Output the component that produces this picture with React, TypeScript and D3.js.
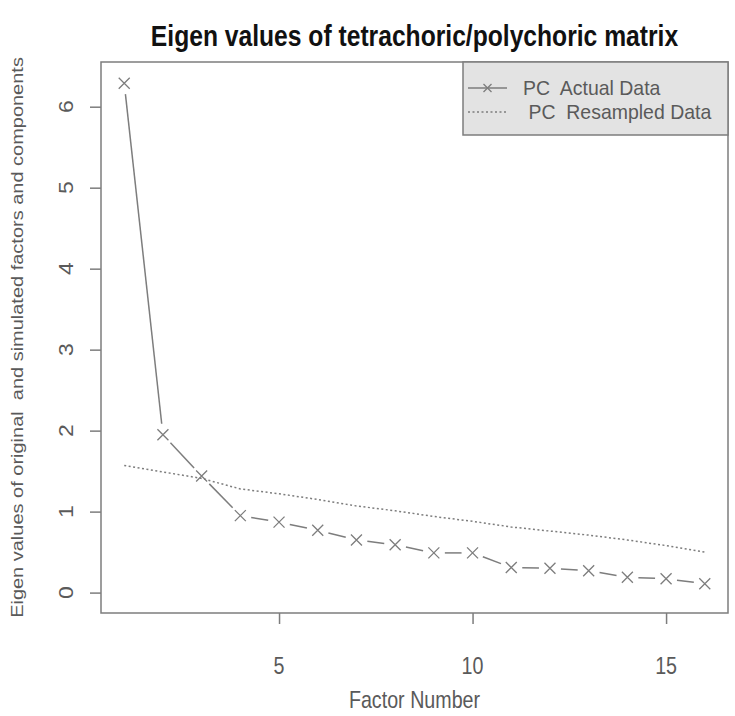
import React, { useEffect, useRef } from 'react';
import * as d3 from 'd3';

// scree plot: eigen values of actual vs resampled data

const factorNumbers = [1, 2, 3, 4, 5, 6, 7, 8, 9, 10, 11, 12, 13, 14, 15, 16];
const actualData = [6.29, 1.95, 1.44, 0.95, 0.87, 0.77, 0.65, 0.59, 0.49, 0.49, 0.31, 0.30, 0.27, 0.19, 0.17, 0.11];
const resampledData = [1.57, 1.49, 1.41, 1.28, 1.22, 1.15, 1.07, 1.01, 0.94, 0.88, 0.81, 0.76, 0.71, 0.65, 0.58, 0.50];
const xTicks = [5, 10, 15];
const yTicks = [0, 1, 2, 3, 4, 5, 6];
const legendLabels = ['PC  Actual Data', ' PC  Resampled Data'];

const titleText = 'Eigen values of tetrachoric/polychoric matrix';
const xLabel = 'Factor Number';
const yLabel = 'Eigen values of original  and simulated factors and components';

const FONT = "'Liberation Sans', Arial, sans-serif";
const SQ = 0.82; // text looks horizontally squeezed

export default function App() {
  const ref = useRef<SVGSVGElement>(null);

  useEffect(() => {
    let width = 735;
    let height = 716;
    let left = 101, right = 728, top = 62, bottom = 613;

    let svg = d3.select(ref.current);
    svg.selectAll('*').remove();
    svg.attr('width', width).attr('height', height);

    // R style: 4% padding on both ends
    let xPad = (16 - 1) * 0.04;
    let yPad = (6.3 - 0) * 0.04;
    let x = d3.scaleLinear().domain([1 - xPad, 16 + xPad]).range([left, right]);
    let y = d3.scaleLinear().domain([0 - yPad, 6.3 + yPad]).range([bottom, top]);

    let grey = '#7d7d7d';
    let textGrey = '#5a5a5a';

    // horizontal text helper
    const hText = (tx: number, ty: number, s: string, size: number, opts: any = {}) =>
      svg.append('text')
        .attr('transform', `translate(${tx},${ty}) scale(${opts.sq || SQ},1)`)
        .attr('text-anchor', opts.anchor || 'middle')
        .attr('font-family', FONT)
        .attr('font-size', size)
        .attr('font-weight', opts.weight || 'normal')
        .attr('fill', opts.fill || textGrey)
        .style('white-space', 'pre')
        .text(s);

    // rotated text helper
    const vText = (tx: number, ty: number, s: string, size: number, sq = SQ) =>
      svg.append('text')
        .attr('transform', `translate(${tx},${ty}) scale(${sq},1) rotate(-90)`)
        .attr('text-anchor', 'middle')
        .attr('dominant-baseline', 'central')
        .attr('font-family', FONT)
        .attr('font-size', size)
        .attr('fill', textGrey)
        .style('white-space', 'pre')
        .text(s);

    // title
    hText((left + right) / 2, 46, titleText, 29, { weight: 'bold', fill: '#111', sq: 0.85 });

    // x axis
    let xAxis = svg.append('g')
      .attr('transform', `translate(0,${bottom})`)
      .call(d3.axisBottom(x).tickValues(xTicks).tickSize(11).tickFormat(() => ''));
    xAxis.select('.domain').remove();
    xAxis.selectAll('line').attr('stroke', grey).attr('stroke-width', 1.5);
    xTicks.forEach((t) => hText(x(t), 674, String(t), 24));
    hText((left + right) / 2, 708, xLabel, 24);

    // y axis
    let yAxis = svg.append('g')
      .attr('transform', `translate(${left},0)`)
      .call(d3.axisLeft(y).tickValues(yTicks).tickSize(11).tickFormat(() => ''));
    yAxis.select('.domain').remove();
    yAxis.selectAll('line').attr('stroke', grey).attr('stroke-width', 1.5);
    yTicks.forEach((t) => vText(66, y(t), String(t), 23, 0.9));
    vText(17, (top + bottom) / 2, yLabel, 20);

    // plot box
    svg.append('rect')
      .attr('x', left).attr('y', top)
      .attr('width', right - left).attr('height', bottom - top)
      .attr('fill', 'none').attr('stroke', grey).attr('stroke-width', 1.5);

    // resampled data, dotted
    let line = d3.line<number>().x((d, i) => x(factorNumbers[i])).y((d) => y(d));
    svg.append('path')
      .attr('d', line(resampledData))
      .attr('fill', 'none')
      .attr('stroke', grey)
      .attr('stroke-width', 1.5)
      .attr('stroke-dasharray', '2,2.5');

    // actual data, type "b": segments with gaps around points
    let pts = actualData.map((d, i) => [x(factorNumbers[i]), y(d)]);
    let gap = 11;
    let segs = svg.append('g').attr('stroke', grey).attr('stroke-width', 1.5);
    for (let i = 0; i < pts.length - 1; i++) {
      let [x1, y1] = pts[i];
      let [x2, y2] = pts[i + 1];
      let len = Math.hypot(x2 - x1, y2 - y1);
      if (len <= 2 * gap) continue;
      let ux = (x2 - x1) / len, uy = (y2 - y1) / len;
      segs.append('line')
        .attr('x1', x1 + ux * gap).attr('y1', y1 + uy * gap)
        .attr('x2', x2 - ux * gap).attr('y2', y2 - uy * gap);
    }
    let cross = 'M-5.5,-5.5L5.5,5.5M-5.5,5.5L5.5,-5.5';
    svg.append('g').selectAll('path')
      .data(pts)
      .enter().append('path')
      .attr('d', cross)
      .attr('transform', (d) => `translate(${d[0]},${d[1]})`)
      .attr('fill', 'none')
      .attr('stroke', grey)
      .attr('stroke-width', 1.3);

    // legend, top right
    let lx = 463, ly = top, lw = right - lx, lh = 73;
    svg.append('rect')
      .attr('x', lx).attr('y', ly).attr('width', lw).attr('height', lh)
      .attr('fill', '#e3e3e3').attr('stroke', grey).attr('stroke-width', 1.5);
    let rows = [ly + 26, ly + 50];
    svg.append('line')
      .attr('x1', lx + 5).attr('x2', lx + 44).attr('y1', rows[0]).attr('y2', rows[0])
      .attr('stroke', grey).attr('stroke-width', 1.5);
    svg.append('path')
      .attr('d', 'M-4,-4L4,4M-4,4L4,-4')
      .attr('transform', `translate(${lx + 24.5},${rows[0]})`)
      .attr('fill', 'none').attr('stroke', grey).attr('stroke-width', 1.3);
    svg.append('line')
      .attr('x1', lx + 5).attr('x2', lx + 44).attr('y1', rows[1]).attr('y2', rows[1])
      .attr('stroke', grey).attr('stroke-width', 1.5).attr('stroke-dasharray', '2,2.5');
    legendLabels.forEach((s, i) =>
      hText(lx + 60, rows[i] + 7, s, 20.5, { anchor: 'start', sq: 0.95 }));
  }, []);

  return (
    <div>
      <svg ref={ref} style={{ position: 'absolute', left: 0, top: 0, background: '#fff' }}></svg>
    </div>
  );
}
